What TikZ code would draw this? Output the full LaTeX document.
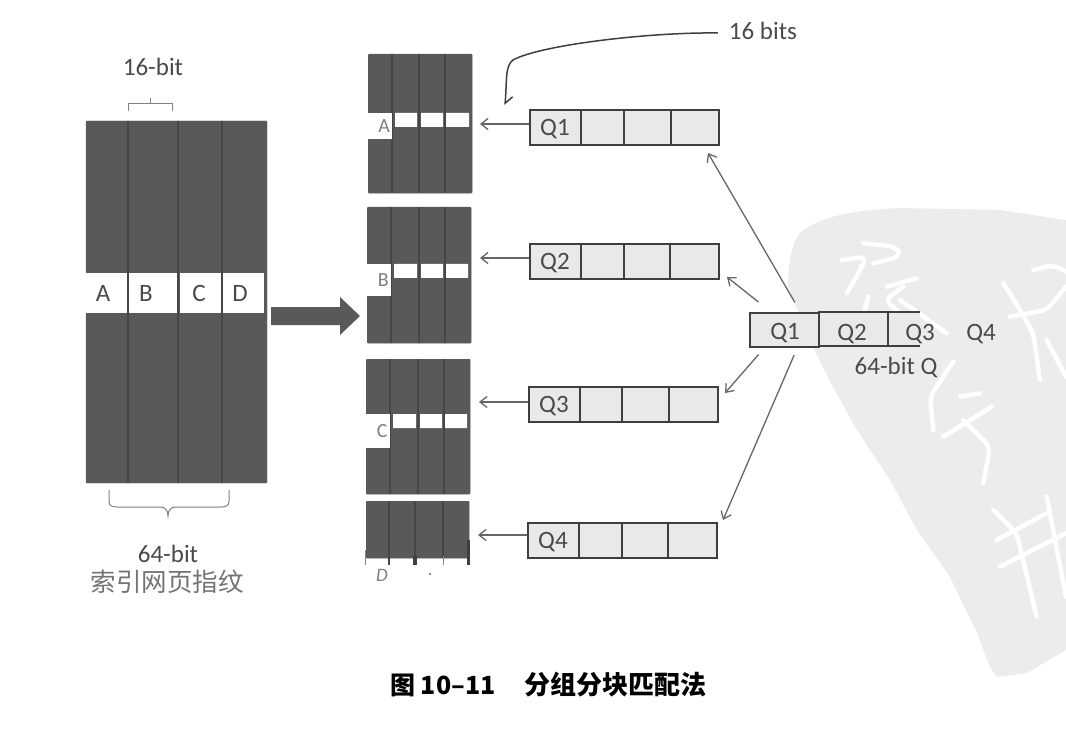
\documentclass[tikz,border=0pt]{standalone}
\usepackage{fontspec}
\setmainfont{Carlito}
\newfontfamily\cjk{Noto Sans CJK SC}
\usetikzlibrary{arrows.meta,positioning}
\definecolor{panelgray}{HTML}{595959}
\definecolor{rulegray}{HTML}{3F3F3F}
\definecolor{dividergray}{HTML}{464646}
\definecolor{cellgray}{HTML}{E9E9E9}
\definecolor{markgray}{HTML}{ECECEC}
\definecolor{inkgray}{HTML}{4A4A4A}
\tikzset{
 panel/.style={draw=panelgray,fill=panelgray,rounded corners=1pt,inner sep=0pt},
 qbox/.style={draw=rulegray,fill=cellgray,line width=1.7pt,inner sep=0pt,minimum height=35pt},
 qline/.style={draw=rulegray,line width=1.8pt},
 band/.style={fill=white,inner sep=0pt},
 lbl/.style={text=inkgray,font=\fontsize{25}{28}\selectfont,inner sep=0pt},
 small lbl/.style={text=gray,font=\fontsize{20}{22}\selectfont,inner sep=0pt},
 gridline/.style={draw=dividergray,line width=2pt},
 link/.style={draw=gray!80!black,line width=1.3pt,->},
 brace/.style={draw=gray,line width=1pt},
 mark stroke/.style={draw=white,line width=4.5pt,line cap=round,line join=round,rounded corners=7pt}
}
\begin{document}
\begin{tikzpicture}[x=1pt,y=-1pt,>={Straight Barb[length=7pt,width=11pt]}]
 \useasboundingbox (0,0) rectangle (1066,746);

 \fill[markgray] (1066,220) -- (1000,210) -- (900,208) .. controls (860,210) and (820,215) .. (800,233)
  .. controls (790,245) and (788,270) .. (788,287) -- (813,347) -- (833,387) -- (857,430) -- (890,480)
  -- (917,530) -- (950,577) -- (977,633) -- (990,667) -- (997,677) -- (1027,673) -- (1066,650) -- cycle;
 \begin{scope}[shift={(700,200)},scale=1/3]
  \draw[mark stroke] (425,180) -- (500,170) -- (470,230) -- (440,280);
  \draw[mark stroke] (490,130) -- (590,140) -- (600,170) -- (520,190);
  \draw[mark stroke] (560,260) -- (650,235);
  \draw[mark stroke] (610,260) -- (555,300) -- (600,340);
  \draw[mark stroke] (505,290) -- (490,345);
  \draw[mark stroke] (600,300) -- (740,400);
  \draw[mark stroke] (910,250) -- (960,330) -- (1000,400) -- (1020,540);
  \draw[mark stroke] (930,350) -- (1040,330) -- (1098,260);
  \draw[mark stroke] (1000,210) -- (1060,195) -- (1098,215);
  \draw[mark stroke] (1040,420) -- (1098,530);
  \draw[mark stroke] (760,485) -- (690,590) -- (700,690);
  \draw[mark stroke] (780,590) -- (840,580);
  \draw[mark stroke] (730,710) -- (875,620);
  \draw[mark stroke] (790,660) -- (870,740) -- (850,850);
  \draw[mark stroke] (880,930) -- (950,1000) -- (1010,1250);
  \draw[mark stroke] (890,1020) -- (1040,940);
  \draw[mark stroke] (900,1100) -- (1098,1000);
  \draw[mark stroke] (1040,890) -- (1098,1190);
 \end{scope}

 \node[panel,minimum width=181pt,minimum height=362pt] (index) at (176.5,302) {};
 \foreach \x in {128,178,222}
  \draw[gridline] (\x,121) -- (\x,483);
 \foreach \name/\x/\w/\tx/\t in {a/85/42/103/A,b/129/48/146/B,c/180/41/199/C,d/223/41/240/D}{
  \node[band,minimum width=\w pt,minimum height=40pt,anchor=north west] (cell_\name) at (\x,273) {};
  \node[lbl] (letter_\name) at (\tx,293) {\t};
 }

 \draw[brace] (128,111) -- (128,104) -- (172,104) -- (172,111) (150,104) -- (150,98);
 \node[lbl] (bit16) at (153,67) {16-bit};
 \draw[brace] (109,490) -- (109,501) .. controls (109,506) and (112,507) .. (118,507) -- (160,507)
  .. controls (165,507) and (168,510) .. (168,516) .. controls (168,510) and (171,507) .. (176,507)
  -- (220,507) .. controls (226,507) and (229,506) .. (229,501) -- (229,490);
 \node[lbl] (bit64) at (168,554) {64-bit};
 \node[text=gray!90!black,font=\cjk\fontsize{25.5}{28}\selectfont,inner sep=0pt] (caption) at (167,582) {索引网页指纹};

 \fill[panelgray] (271,307) -- (340,307) -- (340,297) -- (360,316) -- (340,335) -- (340,325) -- (271,325) -- cycle;

 \foreach \i/\x/\y/\h/\ya/\yb/\xa/\xb/\xc/\t in {1/368/54/139/113/139/392/419/445/A,
  2/367/207/136/264/296/391/419/445/B,3/366/359/135/414/448/390/418/444/C}{
  \node[panel,minimum width=104pt,minimum height=\h pt,anchor=north west] (p_\i) at (\x,\y) {};
  \draw[gridline] (\xa,\y) -- +(0,\h) (\xb,\y) -- +(0,\h) (\xc,\y) -- +(0,\h);
  \node[band,small lbl,minimum width=24pt,minimum height=\yb pt-\ya pt,anchor=north west] (mark_\i) at (\x,\ya) {\hspace*{8pt}\t};
  \fill[white] (\xa+3,\ya) rectangle (\xb-2,\ya+14) (\xb+2,\ya) rectangle (\xc-2,\ya+14) (\xc+1,\ya) rectangle (\x+101,\ya+14);
 }
 \node[panel,minimum width=103pt,minimum height=57pt,anchor=north west] (p_4) at (366,501) {};
 \draw[gridline] (389,501) -- (389,565) (415,501) -- (415,558) (443,501) -- (443,558);
 \draw[draw=rulegray,line width=4pt] (415,556) -- (415,565);
 \draw[draw=rulegray,line width=3pt] (468,540) -- (468,565);
 \draw[draw=gray,line width=1pt] (365,550) -- (365,565) (443,556) -- (443,565);
 \node[small lbl,font=\itshape\fontsize{19}{20}\selectfont] (tail_d) at (382,575) {D};
 \fill[gray] (430,574) circle (1.3pt);

 \foreach \i/\x/\y/\xa/\xb/\xc/\tx/\ty in {1/529/109/581/624/671/480/124,2/529/243/581/624/670/480/258,
  3/528/386/580/622/669/479/402,4/527/522/579/622/668/478/535}{
  \node[qbox,minimum width=189pt,anchor=north west] (q_\i) at (\x,\y) {};
  \draw[qline] (\xa,\y) -- +(0,35) (\xb,\y) -- +(0,35) (\xc,\y) -- +(0,35);
  \node[lbl,anchor=west] (qname_\i) at (\x+11,\y+20) {Q\i};
  \coordinate (t_\i) at (\tx,\ty);
  \draw[link] (q_\i.west |- t_\i) -- (t_\i);
 }

 \node[fill=cellgray,inner sep=0pt,minimum width=70pt,minimum height=33pt,anchor=north west] (mq_2) at (818,312.5) {};
 \node[fill=cellgray,inner sep=0pt,minimum width=32pt,minimum height=33pt,anchor=north west] (mq_3) at (888,312.5) {};
 \draw[qline] (818,312) -- (920,312) (818,346) -- (920,346) (888,312) -- (888,346);
 \node[qbox,minimum width=69pt,minimum height=34pt,anchor=north west] (mq_1) at (749,312) {};
 \node[lbl] (mq_text1) at (785,333) {Q1};
 \node[lbl] (mq_text2) at (852,334) {Q2};
 \node[lbl] (mq_text3) at (920,334) {Q3};
 \node[lbl] (mq_text4) at (981,334) {Q4};
 \node[lbl] (mq_caption) at (896,367) {64-bit Q};

 \coordinate (e_1) at (708,153);
 \coordinate (e_2) at (727,277);
 \coordinate (e_3) at (725,393);
 \coordinate (e_4) at (723,520);
 \draw[link,shorten <=11pt] (mq_1.48) -- (e_1);
 \draw[link,shorten <=16pt] (mq_1.127) -- (e_2);
 \draw[link,shorten <=9pt] (mq_1.222.6) -- (e_3);
 \draw[link,shorten <=8pt] (mq_1.306) -- (e_4);

 \node[lbl] (bits) at (763,31) {16 bits};
 \coordinate (hook) at (505,105);
 \draw[draw=rulegray,line width=1.5pt,-{Straight Barb[left,length=7pt,width=14pt]}] (bits.west) ++(-11,2)
  .. controls (650,32) and (540,45) .. (513,60) .. controls (505,66) and (507,80) .. (hook);

 \node[font=\cjk\bfseries\fontsize{25}{28}\selectfont,inner sep=0pt,anchor=west] (fig_no) at (390,685) {图 10–11};
 \node[font=\cjk\bfseries\fontsize{26}{28}\selectfont,inner sep=0pt,anchor=west] (fig_title) at (524,685) {分组分块匹配法};
\end{tikzpicture}
\end{document}
